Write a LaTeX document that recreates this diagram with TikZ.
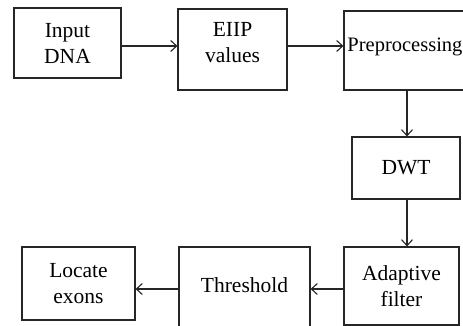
\documentclass[tikz,border=0pt]{standalone}
\usepackage{fontspec}
\setmainfont{Liberation Serif}
\usetikzlibrary{arrows.meta}
\begin{document}
\begin{tikzpicture}[x=1pt,y=-1pt,
  lbl/.style={font=\fontsize{21.5}{26}\selectfont},
  box/.style={draw=black!85,line width=1.1pt,rectangle,inner sep=0pt,align=center,lbl},
  conn/.style={draw=black!85,line width=1.1pt,-{Straight Barb[length=6pt,width=11pt,line width=1.1pt]}}]
\useasboundingbox (0,0) rectangle (463,326);
\clip (0,0) rectangle (463,326);
% top row
\node[box,minimum width=107pt,minimum height=70pt] (input) at (67.5,43) {Input\\DNA};
\node[box,minimum width=109pt,minimum height=81pt,
  label={[align=center,lbl,yshift=6.5pt]center:EIIP\\values}] (eiip) at (232.5,49.5) {};
\node[box,minimum width=136pt,minimum height=79pt,
  label={[anchor=west,font=\fontsize{20.5}{26}\selectfont,yshift=4pt,xshift=0.5pt]west:Preprocessing}] (pre) at (412,50.5) {};
% middle
\node[box,minimum width=108pt,minimum height=62pt] (dwt) at (406,168) {DWT};
% bottom row
\node[box,minimum width=115pt,minimum height=78pt] (adapt) at (401.5,286) {Adaptive\\filter};
\node[box,minimum width=131pt,minimum height=88pt,
  label={[lbl,yshift=6pt]center:Threshold}] (thresh) at (244.5,291) {};
\node[box,minimum width=113pt,minimum height=73pt] (locate) at (78.5,283.5) {Locate\\exons};
% row coordinates
\coordinate (r1) at (0,46);
\coordinate (r2) at (0,289);
\coordinate (c1) at (407,0);
% connectors
\draw[conn] (input.east |- r1) -- (eiip.west |- r1);
\draw[conn] (eiip.east |- r1) -- (pre.west |- r1);
\draw[conn] (pre.south -| c1) -- (dwt.north -| c1);
\draw[conn] (dwt.south -| c1) -- (adapt.north -| c1);
\draw[conn] (adapt.west |- r2) -- (thresh.east |- r2);
\draw[conn] (thresh.west |- r2) -- (locate.east |- r2);
\end{tikzpicture}
\end{document}
